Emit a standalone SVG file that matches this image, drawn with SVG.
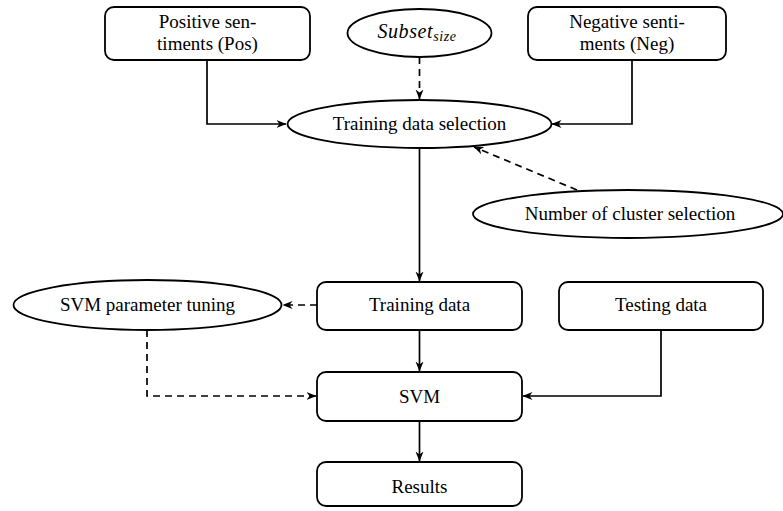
<svg xmlns="http://www.w3.org/2000/svg" width="783" height="511" viewBox="0 0 783 511">
<style>
.box{fill:#fff;stroke:#000;stroke-width:1.8}
.t{font-family:"Liberation Serif","DejaVu Serif",serif;font-size:19px;fill:#000;text-anchor:middle}
.c{fill:none;stroke:#000;stroke-width:1.7}
.d{stroke-dasharray:7,5}
</style>
<defs>
<marker id="ah" viewBox="0 0 10 10" refX="9.5" refY="5" markerWidth="10" markerHeight="10" markerUnits="userSpaceOnUse" orient="auto">
<path d="M0,1 L10,5 L0,9 L3,5 Z" fill="#000"/>
</marker>
</defs>
<rect width="783" height="511" fill="#fff"/>
<g id="connectors">
<path class="c" d="M207,60 V124 H286" marker-end="url(#ah)"/>
<path class="c" d="M632,60 V124 H552" marker-end="url(#ah)"/>
<path class="c d" d="M419.5,57 V99" marker-end="url(#ah)"/>
<path class="c d" d="M577,190 L474,147" marker-end="url(#ah)"/>
<path class="c" d="M419.5,148 V281" marker-end="url(#ah)"/>
<path class="c d" d="M317,305 H283" marker-end="url(#ah)"/>
<path class="c" d="M419.5,330 V371" marker-end="url(#ah)"/>
<path class="c" d="M661,330 V396 H523" marker-end="url(#ah)"/>
<path class="c d" d="M147,330 V396 H316" marker-end="url(#ah)"/>
<path class="c" d="M419.5,421 V461" marker-end="url(#ah)"/>
</g>
<g id="pos">
<rect class="box" x="105" y="7" width="205" height="53" rx="9"/>
<text class="t" x="207.5" y="28">Positive sen-</text>
<text class="t" x="207.5" y="50">timents (Pos)</text>
</g>
<g id="subset">
<ellipse class="box" cx="419.5" cy="33" rx="72" ry="24"/>
<text class="t" x="417" y="38" letter-spacing="0.6"><tspan font-style="italic" font-size="20">Subset</tspan><tspan font-style="italic" font-size="14" dy="3">size</tspan></text>
</g>
<g id="neg">
<rect class="box" x="528" y="7" width="198" height="53" rx="9"/>
<text class="t" x="627" y="28">Negative senti-</text>
<text class="t" x="627" y="50">ments (Neg)</text>
</g>
<g id="tds">
<ellipse class="box" cx="419.5" cy="124" rx="132" ry="24"/>
<text class="t" x="419.5" y="130">Training data selection</text>
</g>
<g id="ncs">
<ellipse class="box" cx="628" cy="214" rx="155" ry="24"/>
<text class="t" x="630" y="220">Number of cluster selection</text>
</g>
<g id="svmpt">
<ellipse class="box" cx="147.5" cy="305" rx="134" ry="25"/>
<text class="t" x="147.5" y="311">SVM parameter tuning</text>
</g>
<g id="train">
<rect class="box" x="317" y="282" width="205" height="48" rx="9"/>
<text class="t" x="419.5" y="311">Training data</text>
</g>
<g id="test">
<rect class="box" x="559" y="282" width="204" height="48" rx="9"/>
<text class="t" x="661" y="311">Testing data</text>
</g>
<g id="svm">
<rect class="box" x="317" y="372" width="205" height="49" rx="9"/>
<text class="t" x="419.5" y="403">SVM</text>
</g>
<g id="results">
<rect class="box" x="317" y="462" width="205" height="44" rx="9"/>
<text class="t" x="419.5" y="493">Results</text>
</g>
</svg>
